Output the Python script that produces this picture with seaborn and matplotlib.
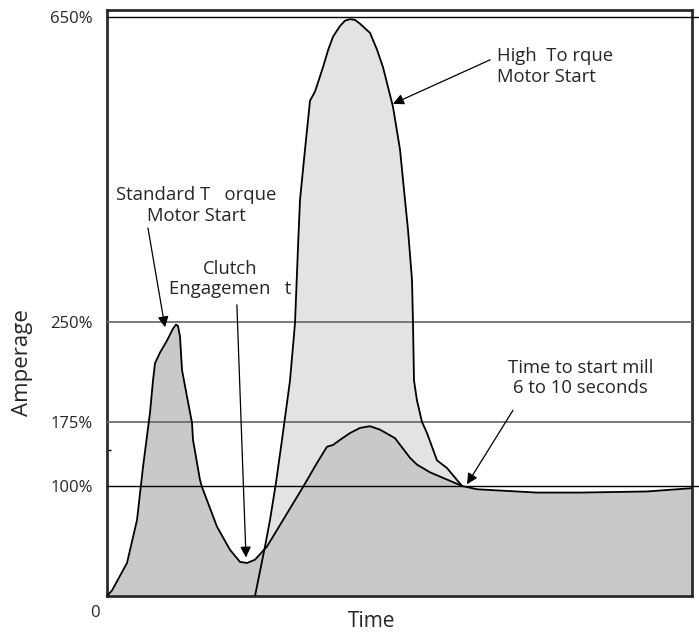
import numpy as np
import pandas as pd
import matplotlib
matplotlib.use('Agg')
import matplotlib.pyplot as plt
import seaborn as sns

# standard torque start + clutch engagement (lower, dark curve)
std_t = [0, 5, 11, 20, 30, 36, 43, 46, 48, 53, 60, 66, 69, 71, 73, 75, 80, 85, 86, 93, 95,
         110, 123, 133, 140, 148, 160, 180, 196, 210, 220, 226, 233, 243, 253, 263, 273,
         288, 303, 310, 323, 343, 355, 370, 390, 430, 473, 540, 585]
std_amp = [0, 5, 15, 30, 69, 122, 182, 206, 219, 227, 236, 245, 248, 247, 239, 214, 194, 174, 154, 107, 99,
           63, 42, 31, 30, 33, 45, 75, 99, 127, 146, 148, 154, 162, 168, 170, 166,
           156, 133, 125, 116, 106, 100, 97, 96, 94, 94, 95, 98]

# high torque motor start (light curve)
hi_t = [148, 158, 163, 169, 175, 183, 188, 191, 193, 198, 203, 208, 216, 221, 226, 233, 238, 243,
        248, 253, 263, 270, 276, 286, 293, 298, 301, 305, 306, 307, 310, 315, 320, 330, 340, 355]
hi_amp = [0, 45, 69, 104, 154, 206, 249, 348, 410, 476, 540, 552, 584, 606, 624, 638, 645, 647,
          646, 641, 629, 607, 584, 532, 476, 410, 371, 305, 249, 206, 191, 175, 162, 130, 121, 100]

ref_lines = [650, 250, 175, 100]
tick_vals = [100, 175, 250, 650]
tick_text = ['100%', '175%', '250%', '650%']

# the drawing is not to scale, so the y axis is stretched piecewise
knot_pct = [0, 100, 175, 250, 650, 1000]
knot_pos = [0, 110, 174, 274, 579, 846]

def fwd(v):
    return np.interp(v, knot_pct, knot_pos)

def inv(v):
    return np.interp(v, knot_pos, knot_pct)

sns.set_style('white')
plt.rcParams['font.family'] = ['Open Sans', 'DejaVu Sans']

fig = plt.figure(figsize=(6.99, 6.33), dpi=100)
ax = fig.add_axes([107/699, 37/633, 585/699, 586/633])
ax.set_yscale('function', functions=(fwd, inv))

lower = pd.DataFrame({'t': std_t, 'amp': std_amp})
upper = pd.DataFrame({'t': hi_t, 'amp': hi_amp})

ax.fill_between(upper['t'], 0, upper['amp'], color='#e3e3e3', lw=0, zorder=1)
ax.fill_between(lower['t'], 0, lower['amp'], color='#c9c9cb', lw=0, zorder=2)

for v in ref_lines:
    if v in (250, 175):
        ax.axhline(v, color='#6f6f6f', lw=1.3, zorder=3)
    else:
        ax.axhline(v, xmin=0, xmax=1.01, color='black', lw=1.0, zorder=3, clip_on=False)

sns.lineplot(data=upper, x='t', y='amp', ax=ax, color='black', lw=1.3, sort=False,
             estimator=None, zorder=4)
sns.lineplot(data=lower, x='t', y='amp', ax=ax, color='black', lw=1.3, sort=False,
             estimator=None, zorder=4)

ax.set_xlim(0, 585)
ax.set_ylim(0, 659)
ax.set_xticks([])
ax.set_yticks(tick_vals)
ax.set_yticklabels(tick_text)
ax.set_yticks([142], minor=True)
ax.tick_params(axis='y', which='major', length=0, pad=10, labelsize=12)
ax.tick_params(axis='y', which='minor', direction='in', length=3, width=1, color='black', left=True)
ax.set_xlabel('')
ax.set_ylabel('')

for s in ax.spines.values():
    s.set_color('#2b2b2b')
    s.set_linewidth(2)

ax.text(-0.0205, -0.029, '0', transform=ax.transAxes, ha='center', va='center', fontsize=12)
ax.text(0.453, -0.044, 'Time', transform=ax.transAxes, ha='center', va='center', fontsize=15)
ax.text(-0.145, 0.399, 'Amperage', transform=ax.transAxes, ha='center', va='center',
        fontsize=16, rotation=90)

arrow = dict(arrowstyle='-|>', color='black', lw=0.9, mutation_scale=16, shrinkA=0, shrinkB=0)
ax.annotate('', xy=(58, 246), xycoords='data', xytext=(0.070, 0.628), textcoords='axes fraction',
            arrowprops=arrow, zorder=5)
ax.annotate('', xy=(139, 35), xycoords='data', xytext=(0.222, 0.497), textcoords='axes fraction',
            arrowprops=arrow, zorder=5)
ax.annotate('', xy=(286, 536), xycoords='data', xytext=(0.655, 0.915), textcoords='axes fraction',
            arrowprops=arrow, zorder=5)
ax.annotate('', xy=(360, 102), xycoords='data', xytext=(0.694, 0.317), textcoords='axes fraction',
            arrowprops=arrow, zorder=5)

ax.text(0.152, 0.666, 'Standard T   orque\nMotor Start', transform=ax.transAxes,
        ha='center', va='center', fontsize=13.3, linespacing=1.2)
ax.text(0.210, 0.541, 'Clutch\nEngagemen   t', transform=ax.transAxes,
        ha='center', va='center', fontsize=13.3, linespacing=1.2)
ax.text(0.667, 0.904, 'High  To rque\nMotor Start', transform=ax.transAxes,
        ha='left', va='center', fontsize=13.3, linespacing=1.2)
ax.text(0.809, 0.372, 'Time to start mill\n6 to 10 seconds', transform=ax.transAxes,
        ha='center', va='center', fontsize=13.3, linespacing=1.2)

plt.savefig('out.png', dpi=100)
